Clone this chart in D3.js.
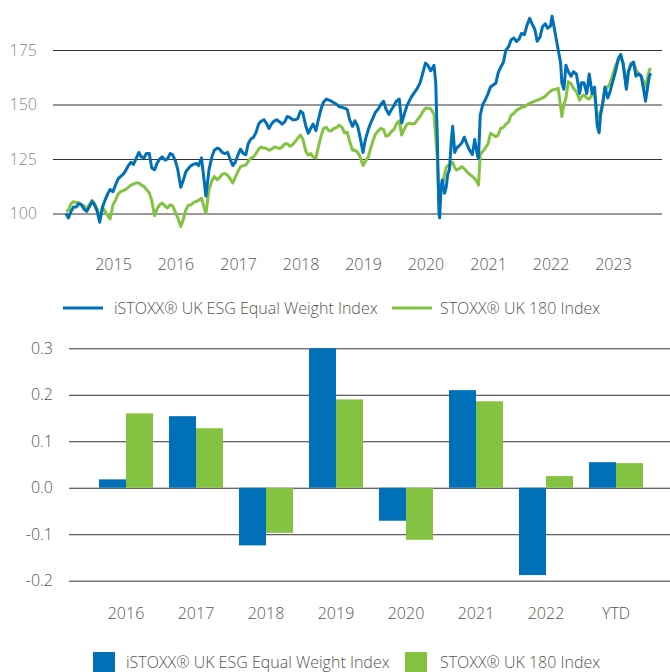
<!DOCTYPE html>
<html>
<head>
<meta charset="utf-8">
<script src="https://cdn.jsdelivr.net/npm/d3@7"></script>
<style>
  body { margin: 0; background: #fff; }
  svg text { font-family: "Open Sans", sans-serif; font-weight: 300; }
</style>
</head>
<body>
<svg width="670" height="672"></svg>
<script>
// index levels (start = 100), roughly twice a month
const dates = [
  '2014-04-01','2014-04-15','2014-05-01','2014-05-15','2014-06-01','2014-06-15','2014-07-01','2014-07-15','2014-08-01','2014-08-15',
  '2014-09-01','2014-09-15','2014-10-01','2014-10-15','2014-11-01','2014-11-15','2014-12-01','2014-12-15',
  '2015-01-01','2015-01-15','2015-02-01','2015-02-15','2015-03-01','2015-03-15','2015-04-01','2015-04-15','2015-05-01','2015-05-15','2015-06-01','2015-06-15',
  '2015-07-01','2015-07-15','2015-08-01','2015-08-15','2015-09-01','2015-09-15','2015-10-01','2015-10-15','2015-11-01','2015-11-15','2015-12-01','2015-12-15',
  '2016-01-01','2016-01-15','2016-02-01','2016-02-15','2016-03-01','2016-03-15','2016-04-01','2016-04-15','2016-05-01','2016-05-15','2016-06-01','2016-06-27',
  '2016-07-15','2016-08-01','2016-08-15','2016-09-01','2016-09-15','2016-10-01','2016-10-15','2016-11-01','2016-11-15','2016-12-01','2016-12-15',
  '2017-01-01','2017-01-15','2017-02-01','2017-02-15','2017-03-01','2017-03-15','2017-04-01','2017-04-15','2017-05-01','2017-05-15','2017-06-01','2017-06-15',
  '2017-07-01','2017-07-15','2017-08-01','2017-08-15','2017-09-01','2017-09-15','2017-10-01','2017-10-15','2017-11-01','2017-11-15','2017-12-01','2017-12-15',
  '2018-01-01','2018-01-15','2018-02-01','2018-02-15','2018-03-01','2018-03-15','2018-04-01','2018-04-15','2018-05-01','2018-05-15','2018-06-01','2018-06-15',
  '2018-07-01','2018-07-15','2018-08-01','2018-08-15','2018-09-01','2018-09-15','2018-10-01','2018-10-15','2018-11-01','2018-11-15','2018-12-01','2018-12-15',
  '2019-01-01','2019-01-15','2019-02-01','2019-02-15','2019-03-01','2019-03-15','2019-04-01','2019-04-15','2019-05-01','2019-05-15','2019-06-01','2019-06-15',
  '2019-07-01','2019-07-15','2019-08-01','2019-08-15','2019-09-01','2019-09-15','2019-10-01','2019-10-15','2019-11-01','2019-11-15','2019-12-01','2019-12-15',
  '2020-01-01','2020-01-15','2020-02-01','2020-02-20','2020-03-01','2020-03-10','2020-03-20','2020-03-24','2020-04-01','2020-04-08','2020-04-15','2020-04-22',
  '2020-05-01','2020-05-10','2020-05-20','2020-06-01','2020-06-08','2020-06-20','2020-07-01','2020-07-15','2020-08-01','2020-08-15','2020-09-01','2020-09-15',
  '2020-10-01','2020-10-15','2020-11-01','2020-11-06','2020-11-16','2020-12-01','2020-12-15',
  '2021-01-01','2021-01-15','2021-02-01','2021-02-15','2021-03-01','2021-03-15','2021-04-01','2021-04-15','2021-05-01','2021-05-15','2021-06-01','2021-06-15',
  '2021-07-01','2021-07-15','2021-08-01','2021-08-15','2021-09-01','2021-09-15','2021-10-01','2021-10-15','2021-11-01','2021-11-15','2021-12-01','2021-12-15',
  '2022-01-01','2022-01-10','2022-02-01','2022-02-15','2022-03-01','2022-03-08','2022-03-20','2022-04-01','2022-04-15','2022-05-01','2022-05-15','2022-06-01','2022-06-20',
  '2022-07-01','2022-07-15','2022-08-01','2022-08-15','2022-09-01','2022-09-15','2022-10-01','2022-10-12','2022-10-20','2022-11-01','2022-11-15','2022-12-01','2022-12-15',
  '2023-01-01','2023-01-15','2023-02-01','2023-02-15','2023-03-01','2023-03-20','2023-04-01','2023-04-15','2023-05-01','2023-05-15','2023-06-01','2023-06-15',
  '2023-07-01','2023-07-10','2023-08-01','2023-08-10'
];
const esgLevel = [
  100,98,101,103,103,104.5,104,102,101,103,
  105.5,104,101,96,103,106,109,111,
  110,113,116,117,118,119.5,122,123.5,122.5,125,128,126,
  125.5,127.5,127.5,121,120,123,125,126,124.5,125,127.5,127,
  124,120,112,115,119,120.5,122,122.5,123,122,125.5,108,
  120,126,129,130,129.5,128,127.5,128,125,122,123.5,
  127,129.5,127.5,127,132,134,135,137,141,142.3,143,141.5,
  139,141,142.5,143,142,141,142,144.5,144,143,143,143.5,
  147,146,140,136.8,139,141,138,143,148,151,152.5,152,
  151.5,150.8,150,149,148.7,148.3,147.7,143,140,142.5,140,135,
  128,134,138.5,141.5,144,146.5,148,150,151.5,148,145.5,147.5,
  149.5,151.5,152.5,141.5,146,149.5,152,154,155.9,157.5,160,164,
  169,168,165.5,168,160,135,100,98,112,115.4,112,109.3,
  112,118,120,134,140,128,130,131,132.5,135,131.5,129,
  127,134,126,125.3,145,150,152,
  155,158,159,159.7,164.5,167,169.5,175,176.5,179.6,180.5,178.9,
  180,182.6,182,186,189.5,187,184.5,179,181,185.7,187,185,
  186,190.5,181,175,169,160,157,168,165,163,165,164,155,
  160,160,155,164,155,158,140,137,145,150,158,153,156,
  161,165,171,173,168.9,157,165,168,169.5,163,164,163,
  156,151.5,163,164.3
];
const ukLevel = [
  101,101.5,104.5,105.4,105,105,104,103.5,102,104,
  106,104.5,102,97.5,103,101,99,97.5,
  104,106,109,110,110.5,111,112,113,113.5,114,114,113,
  112.5,111,109.5,106,99,102,104,104.8,103.5,102.5,104,103.5,
  100.5,98,94,97,101.5,103.7,104,105,105.5,106,107,100,
  111,115,117,115.5,116.5,118,118.4,117.5,116,114,116.5,
  119.5,121.5,122,122.2,124,125.3,126,127.5,129.5,130.5,130,129.8,
  129,129.5,130.5,130.2,129.8,130.5,132,132,130.8,131.5,133,134.5,
  136,134,128.5,126.8,127.5,126,125.5,130.5,135.5,139,139.5,138,
  138,139,139.5,140.5,139.5,137,137.3,133,129,129.1,128,126,
  122,124,126,130,133.5,136.5,138,139,138.5,135.5,136,137.5,
  138.6,141,142.5,136,139,141,141.4,141,141.4,143,144.5,146.5,
  148.3,148.3,148,145.5,135,126,105,104,110,113.8,115,118,
  121,122,122,123,123.5,121,120,120.5,121.5,120.5,119,118,
  117,116,114,113,127,128.5,129.9,
  132,136.8,136,135.2,136,139,139.5,141,142,145,146,147.3,
  148,148.7,149,149.7,150.5,151,151.5,152,152.5,153,153.7,155,
  156,156.7,157,157.4,149,144.5,150,153,160.5,159.5,157.4,156,152,
  153.5,154.4,153,152.5,154.5,155,145,144,146.5,150.5,156.7,158,159.7,
  164,167.5,170.5,171.5,168.9,158,165,169,169,166,164,162.8,
  160,158,165.8,166.6
];
const levelTicks = [100, 125, 150, 175];
const yearTicks = ['2015','2016','2017','2018','2019','2020','2021','2022','2023'];

// annual returns
const periods = ['2016','2017','2018','2019','2020','2021','2022','YTD'];
const esgReturn = [0.018, 0.154, -0.124, 0.30, -0.071, 0.210, -0.188, 0.055];
const ukReturn = [0.160, 0.128, -0.097, 0.190, -0.112, 0.186, 0.025, 0.053];
const returnTicks = [-0.2, -0.1, 0.0, 0.1, 0.2, 0.3];

const seriesNames = ['iSTOXX® UK ESG Equal Weight Index', 'STOXX® UK 180 Index'];
const colors = ['#0070b8', '#84c341'];

const svg = d3.select('svg');
const parse = d3.timeParse('%Y-%m-%d');

// ---- top: index levels ----
const x = d3.scaleTime()
  .domain([parse('2015-01-01'), parse('2023-01-01')])
  .range([113, 613]);
const y = d3.scaleLinear().domain([100, 175]).range([213.5, 50]);

const levels = svg.append('g').attr('id', 'levels');

levels.append('g')
  .attr('transform', 'translate(53,0)')
  .call(d3.axisLeft(y).tickValues(levelTicks).tickSize(-609).tickPadding(16))
  .call(g => g.select('.domain').remove())
  .call(g => g.selectAll('line').attr('stroke', '#333'))
  .call(g => g.selectAll('text').attr('fill', '#888').style('font-size', '16px'));

levels.append('g')
  .attr('transform', 'translate(0,250)')
  .call(d3.axisBottom(x)
    .tickValues(yearTicks.map(d => parse(d + '-01-01')))
    .tickFormat(d3.timeFormat('%Y'))
    .tickSize(0).tickPadding(9))
  .call(g => g.select('.domain').remove())
  .call(g => g.selectAll('text').attr('fill', '#555').style('font-size', '16px'));

const line = d3.line()
  .x((d, i) => x(parse(dates[i])))
  .y(d => y(d));

levels.selectAll('path.series')
  .data([ukLevel, esgLevel])
  .join('path')
  .attr('class', 'series')
  .attr('d', line)
  .style('fill', 'none')
  .style('stroke', (d, i) => colors[1 - i])
  .style('stroke-width', '3')
  .style('stroke-linejoin', 'round');

// legend for lines
const legTop = levels.append('g');
[[63, 114], [392, 440]].forEach((p, i) => {
  legTop.append('line')
    .attr('x1', p[0]).attr('x2', p[0] + 40)
    .attr('y1', 308).attr('y2', 308)
    .style('stroke', colors[i]).style('stroke-width', '3');
  legTop.append('text')
    .attr('x', p[1]).attr('y', 308).attr('dy', '0.35em')
    .attr('fill', '#555').style('font-size', '16px')
    .text(seriesNames[i]);
});

// ---- bottom: annual returns ----
const x0 = d3.scaleBand()
  .domain(periods)
  .range([91, 651])
  .paddingInner(16 / 70)
  .paddingOuter(8 / 70);
const x1 = d3.scaleBand().domain([0, 1]).range([0, x0.bandwidth()]);
const yr = d3.scaleLinear().domain([-0.2, 0.3]).range([580.7, 348.3]);

const returns = svg.append('g').attr('id', 'returns');

returns.append('g')
  .attr('transform', 'translate(69,0)')
  .call(d3.axisLeft(yr).tickValues(returnTicks).tickSize(-601).tickPadding(16)
    .tickFormat(d => d.toFixed(1)))
  .call(g => g.select('.domain').remove())
  .call(g => g.selectAll('line').attr('stroke', '#333'))
  .call(g => g.selectAll('text').attr('fill', '#555').style('font-size', '16px'));

returns.append('g')
  .attr('transform', 'translate(0,600)')
  .call(d3.axisBottom(x0).tickSize(0).tickPadding(8))
  .call(g => g.select('.domain').remove())
  .call(g => g.selectAll('text').attr('fill', '#555').style('font-size', '16px'));

returns.selectAll('g.period')
  .data(periods)
  .join('g')
  .attr('class', 'period')
  .attr('transform', d => `translate(${x0(d)},0)`)
  .selectAll('rect')
  .data((d, i) => [esgReturn[i], ukReturn[i]])
  .join('rect')
  .attr('x', (d, i) => x1(i))
  .attr('width', x1.bandwidth())
  .attr('y', d => yr(Math.max(0, d)))
  .attr('height', d => Math.abs(yr(d) - yr(0)))
  .style('fill', (d, i) => colors[i]);

// legend for bars
const legBot = returns.append('g');
[[93, 126], [405, 440]].forEach((p, i) => {
  legBot.append('rect')
    .attr('x', p[0]).attr('y', 652)
    .attr('width', 22).attr('height', 22)
    .style('fill', colors[i]);
  legBot.append('text')
    .attr('x', p[1]).attr('y', 668)
    .attr('fill', '#555').style('font-size', '16px')
    .text(seriesNames[i]);
});
</script>
</body>
</html>
